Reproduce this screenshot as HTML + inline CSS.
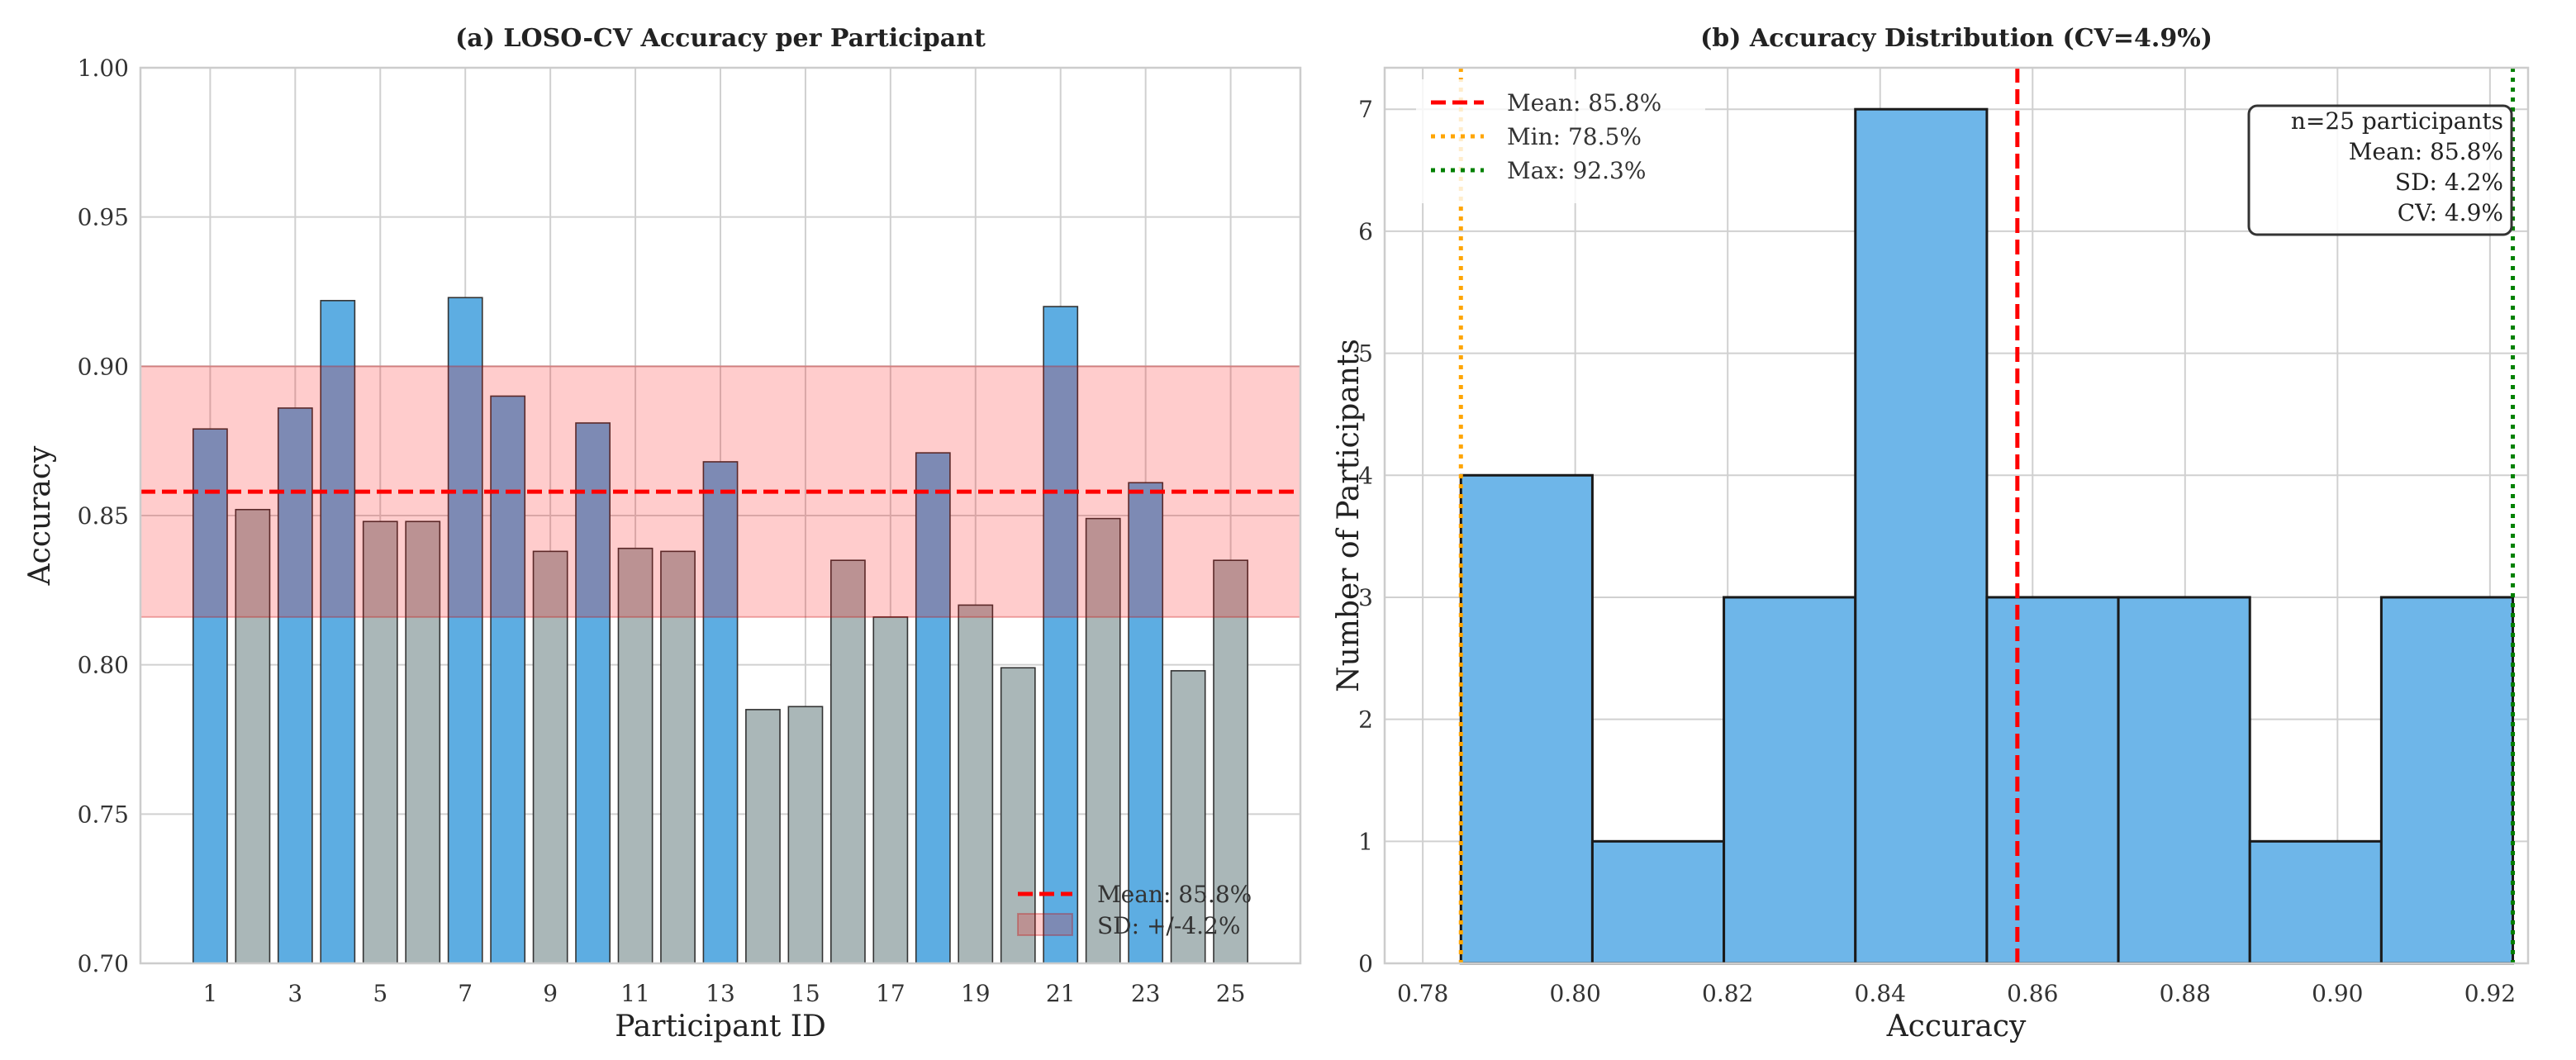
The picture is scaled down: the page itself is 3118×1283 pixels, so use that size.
<!DOCTYPE html>
<html><head><meta charset="utf-8"><style>
body{margin:0;background:#fff}
svg{display:block;font-family:"DejaVu Serif","Liberation Serif",serif}
</style></head><body>
<svg id="c" width="3118" height="1283" xmlns="http://www.w3.org/2000/svg"></svg>
<script>
const participants=[1,2,3,4,5,6,7,8,9,10,11,12,13,14,15,16,17,18,19,20,21,22,23,24,25];
const accuracy=[0.879,0.852,0.886,0.922,0.848,0.848,0.923,0.890,0.838,0.881,0.839,0.838,0.868,0.785,0.786,0.835,0.816,0.871,0.820,0.799,0.920,0.849,0.861,0.798,0.835];
const meanAcc=0.858, sdAcc=0.042;
const leftYTicks=[0.70,0.75,0.80,0.85,0.90,0.95,1.00];
const leftXTicks=[1,3,5,7,9,11,13,15,17,19,21,23,25];
const histEdges=[0.785,0.80225,0.8195,0.83675,0.854,0.87125,0.8885,0.90575,0.923];
const histCounts=[4,1,3,7,3,3,1,3];
const minAcc=0.785, maxAcc=0.923;
const rightXTicks=[0.78,0.80,0.82,0.84,0.86,0.88,0.90,0.92];
const rightYTicks=[0,1,2,3,4,5,6,7];

const svg=document.getElementById('c');
const NS='http://www.w3.org/2000/svg';
function mk(tag,attrs,parent){const e=document.createElementNS(NS,tag);for(const k in attrs)e.setAttribute(k,attrs[k]);(parent||svg).appendChild(e);return e;}
function txt(s,attrs,parent){const e=mk('text',attrs,parent);e.textContent=s;return e;}

// ---------- Left panel ----------
const L={x0:170,x1:1574,y0:82,y1:1166,xmin:-0.64,xmax:26.64,ymin:0.70,ymax:1.00};
const lx=v=>L.x0+(v-L.xmin)/(L.xmax-L.xmin)*(L.x1-L.x0);
const ly=v=>L.y1-(v-L.ymin)/(L.ymax-L.ymin)*(L.y1-L.y0);
const gL=mk('g',{});


leftYTicks.forEach(t=>{
  const l=mk('line',{x1:L.x0,x2:L.x1,y1:ly(t),y2:ly(t),stroke:'#d0d0d0','stroke-width':2},gL);
  
  
  const tl=txt(t.toFixed(2),{x:L.x0-14,y:ly(t)+10,'text-anchor':'end','font-size':28,fill:'#333'},gL);
  
  
});
leftXTicks.forEach(t=>{
  const l=mk('line',{x1:lx(t),x2:lx(t),y1:L.y0,y2:L.y1,stroke:'#d0d0d0','stroke-width':2},gL);
  
  
  const tl=txt(String(t),{x:lx(t),y:L.y1+46,'text-anchor':'middle','font-size':28,fill:'#333'},gL);
  
  
});
participants.forEach((p,i)=>{
  const v=accuracy[i];
  const hi=v>meanAcc;
  const r=mk('rect',{x:lx(p-0.4),y:ly(v),width:lx(p+0.4)-lx(p-0.4),height:ly(L.ymin)-ly(v),fill:hi?'#5dade2':'#aab7b8',stroke:'#333','stroke-width':1.6},gL);
  
  
});
const band=mk('rect',{x:L.x0,y:ly(meanAcc+sdAcc),width:L.x1-L.x0,height:ly(meanAcc-sdAcc)-ly(meanAcc+sdAcc),fill:'rgba(255,0,0,0.2)',stroke:'rgba(200,0,0,0.3)','stroke-width':2},gL);


const ml=mk('line',{x1:L.x0,x2:L.x1,y1:ly(meanAcc),y2:ly(meanAcc),stroke:'#ff0000','stroke-width':5,'stroke-dasharray':'18,8'},gL);


const fr=mk('rect',{x:L.x0,y:L.y0,width:L.x1-L.x0,height:L.y1-L.y0,fill:'none',stroke:'#cccccc','stroke-width':2.5},gL);


const t1=txt('(a) LOSO-CV Accuracy per Participant',{x:(L.x0+L.x1)/2,y:56,'text-anchor':'middle','font-size':30,'font-weight':'bold',fill:'#222'},gL);


const xl1=txt('Participant ID',{x:(L.x0+L.x1)/2,y:1254,'text-anchor':'middle','font-size':36,fill:'#222'},gL);


const yl1=txt('Accuracy',{x:0,y:0,'text-anchor':'middle','font-size':36,fill:'#222',transform:'translate(60,'+((L.y0+L.y1)/2)+') rotate(-90)'},gL);


const lg1=mk('g',{},gL);


mk('line',{x1:1232,x2:1298,y1:1082,y2:1082,stroke:'#ff0000','stroke-width':5,'stroke-dasharray':'18,8'},lg1);
txt('Mean: 85.8%',{x:1328,y:1092,'font-size':28,fill:'#333'},lg1);
mk('rect',{x:1232,y:1106,width:66,height:26,fill:'rgba(255,0,0,0.2)',stroke:'rgba(200,0,0,0.3)','stroke-width':2},lg1);
txt('SD: +/-4.2%',{x:1328,y:1130,'font-size':28,fill:'#333'},lg1);

// ---------- Right panel ----------
const R={x0:1676,x1:3060,y0:82,y1:1166,xmin:0.775,xmax:0.925,ymin:0,ymax:7.34};
const rx=v=>R.x0+(v-R.xmin)/(R.xmax-R.xmin)*(R.x1-R.x0);
const ry=v=>R.y1-(v-R.ymin)/(R.ymax-R.ymin)*(R.y1-R.y0);
const gR=mk('g',{});


rightYTicks.forEach(t=>{
  const l=mk('line',{x1:R.x0,x2:R.x1,y1:ry(t),y2:ry(t),stroke:'#d0d0d0','stroke-width':2},gR);
  
  
  const tl=txt(String(t),{x:R.x0-14,y:ry(t)+10,'text-anchor':'end','font-size':28,fill:'#333'},gR);
  
  
});
rightXTicks.forEach(t=>{
  const l=mk('line',{x1:rx(t),x2:rx(t),y1:R.y0,y2:R.y1,stroke:'#d0d0d0','stroke-width':2},gR);
  
  
  const tl=txt(t.toFixed(2),{x:rx(t),y:R.y1+46,'text-anchor':'middle','font-size':28,fill:'#333'},gR);
  
  
});
histCounts.forEach((c,i)=>{
  const r=mk('rect',{x:rx(histEdges[i]),y:ry(c),width:rx(histEdges[i+1])-rx(histEdges[i]),height:ry(0)-ry(c),fill:'#6eb6e9',stroke:'#1a1a1a','stroke-width':3},gR);
  
  
});
const vm=mk('line',{x1:rx(meanAcc),x2:rx(meanAcc),y1:R.y0,y2:R.y1,stroke:'#ff0000','stroke-width':5,'stroke-dasharray':'18,8'},gR);


const vmin=mk('line',{x1:rx(minAcc),x2:rx(minAcc),y1:R.y0,y2:R.y1,stroke:'#ffa500','stroke-width':5,'stroke-dasharray':'5,7'},gR);


const vmax=mk('line',{x1:rx(maxAcc),x2:rx(maxAcc),y1:R.y0,y2:R.y1,stroke:'#008000','stroke-width':5,'stroke-dasharray':'5,7'},gR);


const fr2=mk('rect',{x:R.x0,y:R.y0,width:R.x1-R.x0,height:R.y1-R.y0,fill:'none',stroke:'#cccccc','stroke-width':2.5},gR);


const t2=txt('(b) Accuracy Distribution (CV=4.9%)',{x:(R.x0+R.x1)/2,y:56,'text-anchor':'middle','font-size':30,'font-weight':'bold',fill:'#222'},gR);


const xl2=txt('Accuracy',{x:(R.x0+R.x1)/2,y:1254,'text-anchor':'middle','font-size':36,fill:'#222'},gR);


const yl2=txt('Number of Participants',{x:0,y:0,'text-anchor':'middle','font-size':36,fill:'#222',transform:'translate(1644,'+((R.y0+R.y1)/2)+') rotate(-90)'},gR);


const lg2=mk('g',{},gR);


mk('rect',{x:1714,y:96,width:350,height:150,fill:'rgba(255,255,255,0.8)'},lg2);
mk('line',{x1:1732,x2:1796,y1:124,y2:124,stroke:'#ff0000','stroke-width':5,'stroke-dasharray':'18,8'},lg2);
txt('Mean: 85.8%',{x:1824,y:134,'font-size':28,fill:'#333'},lg2);
mk('line',{x1:1732,x2:1796,y1:165,y2:165,stroke:'#ffa500','stroke-width':5,'stroke-dasharray':'5,7'},lg2);
txt('Min: 78.5%',{x:1824,y:175,'font-size':28,fill:'#333'},lg2);
mk('line',{x1:1732,x2:1796,y1:206,y2:206,stroke:'#008000','stroke-width':5,'stroke-dasharray':'5,7'},lg2);
txt('Max: 92.3%',{x:1824,y:216,'font-size':28,fill:'#333'},lg2);
const sb=mk('g',{},gR);


mk('rect',{x:2722,y:128,width:318,height:156,rx:10,fill:'rgba(255,255,255,0.85)',stroke:'#333','stroke-width':3},sb);
['n=25 participants','Mean: 85.8%','SD: 4.2%','CV: 4.9%'].forEach((s,i)=>{
  txt(s,{x:3030,y:156+i*37,'text-anchor':'end','font-size':28,fill:'#222'},sb);
});
</script>
</body></html>
